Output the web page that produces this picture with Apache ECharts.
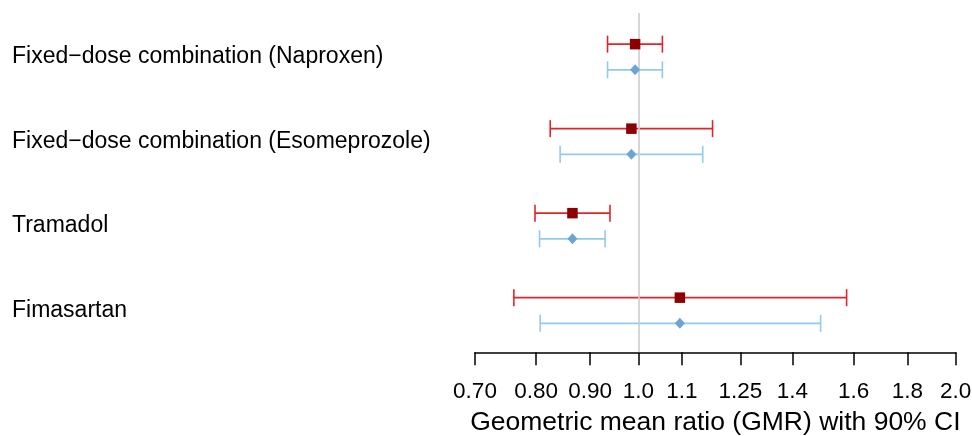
<!DOCTYPE html>
<html>
<head>
<meta charset="utf-8">
<script src="https://cdn.jsdelivr.net/npm/echarts@6/dist/echarts.min.js"></script>
<style>html,body{margin:0;padding:0;background:#fff}#c{width:972px;height:436px}</style>
</head>
<body>
<div id="c"></div>
<script>
var categories = ["Fixed\u2212dose combination (Naproxen)", "Fixed\u2212dose combination (Esomeprozole)", "Tramadol", "Fimasartan"];
var redGMR  = [0.993, 0.985, 0.866, 1.095];
var redLow  = [0.935, 0.825, 0.798, 0.762];
var redHigh = [1.054, 1.176, 0.940, 1.576];
var blueGMR  = [0.993, 0.985, 0.866, 1.095];
var blueLow  = [0.935, 0.843, 0.806, 0.807];
var blueHigh = [1.054, 1.151, 0.930, 1.489];
var tickLabels = ["0.70", "0.80", "0.90", "1.0", "1.1", "1.25", "1.4", "1.6", "1.8", "2.0"];
var tickValues = tickLabels.map(function (s) { return parseFloat(s); });

var OFF = 0.152;
var FONT = 'Liberation Sans, Arial, Helvetica, sans-serif';
function labelFor(v) {
  for (var i = 0; i < tickValues.length; i++) if (Math.abs(tickValues[i] - v) < 1e-6) return tickLabels[i];
  return '';
}
function barData(low, high, gmr, off) {
  return categories.map(function (c, i) { return [low[i], high[i], i + off, gmr[i]]; });
}
function errorRender(color) {
  return function (params, api) {
    var y = api.value(2);
    var p1 = api.coord([api.value(0), y]);
    var p2 = api.coord([api.value(1), y]);
    var h = 8.5;
    var st = { stroke: color, lineWidth: 1.6 };
    return { type: 'group', children: [
      { type: 'line', shape: { x1: p1[0], y1: p1[1], x2: p2[0], y2: p2[1] }, style: st },
      { type: 'line', shape: { x1: p1[0], y1: p1[1] - h, x2: p1[0], y2: p1[1] + h }, style: st },
      { type: 'line', shape: { x1: p2[0], y1: p2[1] - h, x2: p2[0], y2: p2[1] + h }, style: st }
    ]};
  };
}

var chart = echarts.init(document.getElementById('c'), null, { renderer: 'canvas' });
chart.setOption({
  animation: false,
  grid: { left: 475, right: 16.3, top: 13, bottom: 83.7, containLabel: false, outerBoundsMode: 'none' },
  xAxis: {
    type: 'log', logBase: 10, min: 0.7, max: 2.0,
    axisLine: { show: true, onZero: false, lineStyle: { color: '#000', width: 1.5 } },
    axisTick: { show: true, length: 13, lineStyle: { color: '#000', width: 1.5 }, customValues: tickValues },
    axisLabel: { customValues: tickValues, formatter: function (v) { return labelFor(v); },
      color: '#000', fontSize: 22.5, fontFamily: FONT, margin: 28 },
    splitLine: { show: false },
    name: 'Geometric mean ratio (GMR) with 90% CI',
    nameLocation: 'middle', nameGap: 57,
    nameTextStyle: { color: '#000', fontSize: 26.5, fontFamily: FONT }
  },
  yAxis: {
    type: 'value', inverse: true, min: -0.5207, max: 3.4947,
    axisLine: { show: false }, axisTick: { show: false }, splitLine: { show: false },
    axisLabel: { customValues: [0, 1, 2, 3], formatter: function (v) { return categories[Math.round(v)] || ''; },
      align: 'left', margin: 463, color: '#000', fontSize: 23, fontFamily: FONT }
  },
  series: [
    { type: 'custom', renderItem: errorRender('#e0242a'), data: barData(redLow, redHigh, redGMR, -OFF),
      encode: { x: [0, 1], y: 2 }, z: 3,
      markLine: { silent: true, symbol: 'none', label: { show: false },
        lineStyle: { color: '#cccccc', width: 1.6, type: 'solid' }, data: [{ xAxis: 1 }] } },
    { type: 'custom', renderItem: errorRender('#92c9ef'), data: barData(blueLow, blueHigh, blueGMR, OFF),
      encode: { x: [0, 1], y: 2 }, z: 3 },
    { type: 'scatter', symbol: 'rect', symbolSize: 10.5, itemStyle: { color: '#8b0000', opacity: 1 }, z: 5,
      data: categories.map(function (c, i) { return [redGMR[i], i - OFF]; }) },
    { type: 'scatter', symbol: 'diamond', symbolSize: [10, 11], itemStyle: { color: '#6ca5d3', opacity: 1 }, z: 5,
      data: categories.map(function (c, i) { return [blueGMR[i], i + OFF]; }) }
  ]
});
</script>
</body>
</html>
